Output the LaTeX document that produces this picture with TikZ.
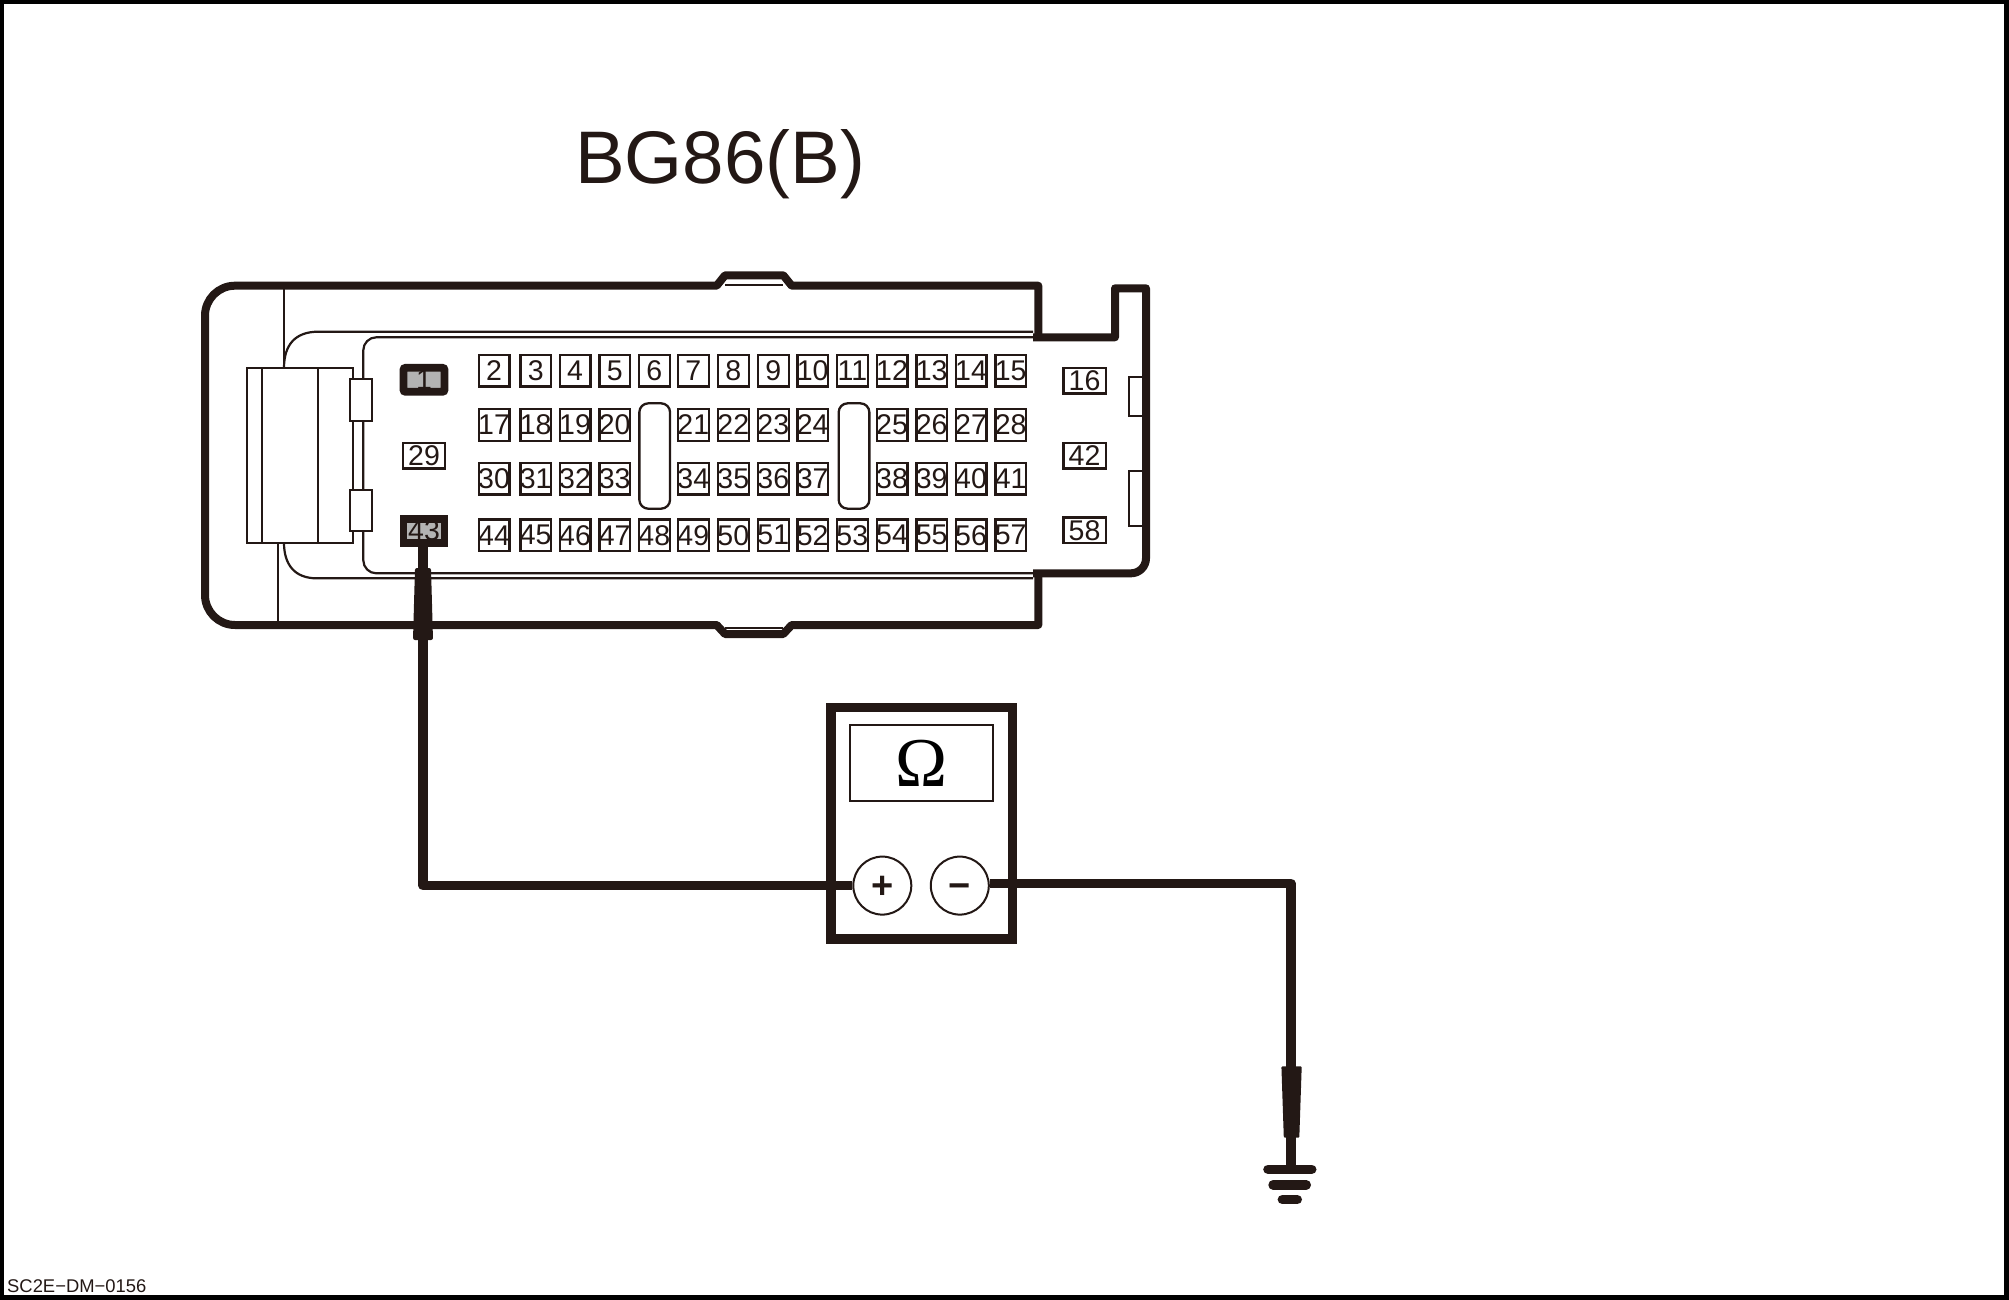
\documentclass[tikz,border=0pt]{standalone}
\usepackage{fontspec}
\setmainfont{Liberation Sans}
\newfontfamily\omegafont{Liberation Serif}
\usetikzlibrary{positioning, calc}
\definecolor{inkBlack}{RGB}{35, 24, 21}
\definecolor{pinGray}{RGB}{179, 179, 179}
\newcommand{\pinfont}{\fontsize{28.5}{28.5}\selectfont}
\tikzset{
  shell/.style={draw=inkBlack, line width=8pt, line join=round},
  thinline/.style={draw=inkBlack, line width=2.2pt},
  wire/.style={draw=inkBlack, line width=9.3pt, line join=round},
  gndbar/.style={draw=inkBlack, line width=9.6pt, line cap=round},
  pinbox/.style={rectangle, draw=inkBlack, fill=white, line width=2.3pt,
                 inner xsep=-1pt, inner ysep=0pt,
                 minimum width=30.7pt, minimum height=31.7pt,
                 text=inkBlack, font=\pinfont},
  pinwide/.style={rectangle, draw=inkBlack, fill=white, line width=2.3pt, inner sep=0pt,
                 minimum width=42.3pt, minimum height=25.7pt,
                 text=inkBlack, font=\pinfont},
  pindark/.style={rectangle, draw=inkBlack, fill=pinGray, line width=7.7pt, inner sep=0pt,
                 minimum width=41pt, minimum height=24pt,
                 text=inkBlack, font=\pinfont},
  slotbox/.style={rectangle, draw=inkBlack, fill=white, line width=2.3pt, inner sep=0pt,
                 minimum width=30.7pt, minimum height=105.4pt, rounded corners=9pt},
  meterbox/.style={rectangle, draw=inkBlack, fill=white, line width=9.3pt, inner sep=0pt,
                 minimum width=181.8pt, minimum height=231.8pt},
  displaybox/.style={rectangle, draw=inkBlack, fill=white, line width=2pt, inner sep=0pt,
                 minimum width=142.6pt, minimum height=76.1pt, text=black,
                 font=\omegafont\fontsize{70}{70}\selectfont},
  terminal/.style={circle, draw=inkBlack, fill=white, line width=2pt, inner sep=0pt,
                 minimum size=58pt, text=inkBlack, text height=25pt, text depth=0pt,
                 font=\bfseries\fontsize{38}{38}\selectfont},
}
\begin{document}
\begin{tikzpicture}[x=1pt, y=-1pt]
  \useasboundingbox (0,0) rectangle (2009,1300);
  \draw[black, line width=4.5pt] (2.2,2.2) rectangle (2006.6,1297.6);

  \node[anchor=base west, inner sep=0pt, text=inkBlack, font=\fontsize{74.5}{74.5}\selectfont]
    (title) at (575,183) {BG86(B)};
  \node[anchor=base west, inner sep=0pt, text=inkBlack, font=\fontsize{18.4}{18.4}\selectfont]
    (code) at (7,1292.3) {SC2E−DM−0156};

  \draw[thinline] (725,285) -- (783.3,285);
  \draw[thinline] (725,627.7) -- (783.3,627.7);
  \draw[thinline] (284.3,285.7) -- (284.3,368);
  \draw[thinline] (277.7,542.7) -- (277.7,625);
  \draw[thinline] (284,368) .. controls (284,345) and (295,331.7) .. (318.3,331.7) -- (1033,331.7);
  \draw[thinline] (284,542.7) .. controls (284,565) and (295,578.3) .. (316.7,578.3) -- (1033,578.3);
  \draw[thinline, rounded corners=13pt] (1033,337.3) -- (363.3,337.3) -- (363.3,573.3) -- (1033,573.3);

  \draw[thinline, fill=white] (246.7,368.3) rectangle (353.3,542.7);
  \draw[thinline] (261.7,368.3) -- (261.7,542.7);
  \draw[thinline] (317.7,368.3) -- (317.7,542.7);
  \draw[thinline, fill=white] (350,379.3) rectangle (372,421.3);
  \draw[thinline, fill=white] (350,490) rectangle (372,530.7);
  \draw[thinline] (1146,376.7) -- (1129.3,376.7) -- (1129.3,416) -- (1146,416);
  \draw[thinline] (1146,471) -- (1129.3,471) -- (1129.3,526) -- (1146,526);

  \draw[shell] (1038.3,335) -- (1038.3,285.7) -- (791.7,285.7) -- (783.3,275.3) -- (725,275.3) -- (716.7,285.7)
    [rounded corners=30pt] -- (205,285.7) -- (205,625) [sharp corners] -- (716.7,625)
    -- (725,634) -- (783.3,634) -- (791.7,625) -- (1038.3,625) -- (1038.3,575);
  \draw[shell] (1033,337.3) -- (1115,337.3) -- (1115,288.3) -- (1146,288.3)
    [rounded corners=15pt] -- (1146,573.3) [sharp corners] -- (1033,573.3);

  \node[slotbox] (S1) at (654.7,456) {};
  \node[slotbox] (S2) at (854,456) {};

  \node[pindark, rounded corners=2pt] (P1) at (424,379.8) {1};
  \node[pinwide] (P29) at (424,455.5) {29};
  \node[pindark] (P43) at (424,530.8) {43};

  \node[pinbox] (P2) at (494,370.7) {2};
  \node[pinbox] (P3) at (535.7,370.7) {3};
  \node[pinbox] (P4) at (575,370.7) {4};
  \node[pinbox] (P5) at (614.7,370.7) {5};
  \node[pinbox] (P6) at (654.3,370.7) {6};
  \node[pinbox] (P7) at (693.3,370.7) {7};
  \node[pinbox] (P8) at (733.3,370.7) {8};
  \node[pinbox] (P9) at (773.3,370.7) {9};
  \node[pinbox] (P10) at (812.7,370.7) {10};
  \node[pinbox] (P11) at (852.3,370.7) {11};
  \node[pinbox] (P12) at (892,370.7) {12};
  \node[pinbox] (P13) at (931.7,370.7) {13};
  \node[pinbox] (P14) at (971,370.7) {14};
  \node[pinbox] (P15) at (1010.7,370.7) {15};

  \node[pinbox] (P17) at (494,425) {17};
  \node[pinbox] (P18) at (535.7,425) {18};
  \node[pinbox] (P19) at (575,425) {19};
  \node[pinbox] (P20) at (614.7,425) {20};
  \node[pinbox] (P21) at (693.3,425) {21};
  \node[pinbox] (P22) at (733.3,425) {22};
  \node[pinbox] (P23) at (773.3,425) {23};
  \node[pinbox] (P24) at (812.7,425) {24};
  \node[pinbox] (P25) at (892,425) {25};
  \node[pinbox] (P26) at (931.7,425) {26};
  \node[pinbox] (P27) at (971,425) {27};
  \node[pinbox] (P28) at (1010.7,425) {28};

  \node[pinbox] (P30) at (494,478.7) {30};
  \node[pinbox] (P31) at (535.7,478.7) {31};
  \node[pinbox] (P32) at (575,478.7) {32};
  \node[pinbox] (P33) at (614.7,478.7) {33};
  \node[pinbox] (P34) at (693.3,478.7) {34};
  \node[pinbox] (P35) at (733.3,478.7) {35};
  \node[pinbox] (P36) at (773.3,478.7) {36};
  \node[pinbox] (P37) at (812.7,478.7) {37};
  \node[pinbox] (P38) at (892,478.7) {38};
  \node[pinbox] (P39) at (931.7,478.7) {39};
  \node[pinbox] (P40) at (971,478.7) {40};
  \node[pinbox] (P41) at (1010.7,478.7) {41};

  \node[pinbox] (P44) at (494,535.3) {44};
  \node[pinbox] (P45) at (535.7,535.3) {45};
  \node[pinbox] (P46) at (575,535.3) {46};
  \node[pinbox] (P47) at (614.7,535.3) {47};
  \node[pinbox] (P48) at (654.3,535.3) {48};
  \node[pinbox] (P49) at (693.3,535.3) {49};
  \node[pinbox] (P50) at (733.3,535.3) {50};
  \node[pinbox] (P51) at (773.3,535.3) {51};
  \node[pinbox] (P52) at (812.7,535.3) {52};
  \node[pinbox] (P53) at (852.3,535.3) {53};
  \node[pinbox] (P54) at (892,535.3) {54};
  \node[pinbox] (P55) at (931.7,535.3) {55};
  \node[pinbox] (P56) at (971,535.3) {56};
  \node[pinbox] (P57) at (1010.7,535.3) {57};

  \node[pinwide] (P16) at (1084.5,380.5) {16};
  \node[pinwide] (P42) at (1084.5,455.5) {42};
  \node[pinwide] (P58) at (1084.5,530.3) {58};

  \node[meterbox] (meter) at (921.9,823.1) {};
  \node[displaybox] (display) at (921.2,763.2) {Ω};
  \node[terminal] (plus) at (882.3,885.6) {+};
  \node[terminal] (minus) at (959.8,885.6) {−};
  \coordinate (gndTop) at (1291,1169.3);

  \draw[wire] ([xshift=-1pt]P43.south) |- (plus.west);
  \draw[wire] ([yshift=2.4pt]minus.east) -| (gndTop);

  \fill[inkBlack, rounded corners=2pt] (415,568) -- (431,568) -- (433,640) -- (413,640) -- cycle;
  \fill[inkBlack, rounded corners=1pt] (1281.4,1066.4) -- (1301.7,1066.4) -- (1299.3,1137.7) -- (1283.8,1137.7) -- cycle;

  \draw[gndbar] (1268,1169.3) -- (1311.7,1169.3);
  \draw[gndbar] (1273.1,1184.8) -- (1306.2,1184.8);
  \draw[gndbar] (1282.4,1199.6) -- (1297.2,1199.6);
\end{tikzpicture}
\end{document}
